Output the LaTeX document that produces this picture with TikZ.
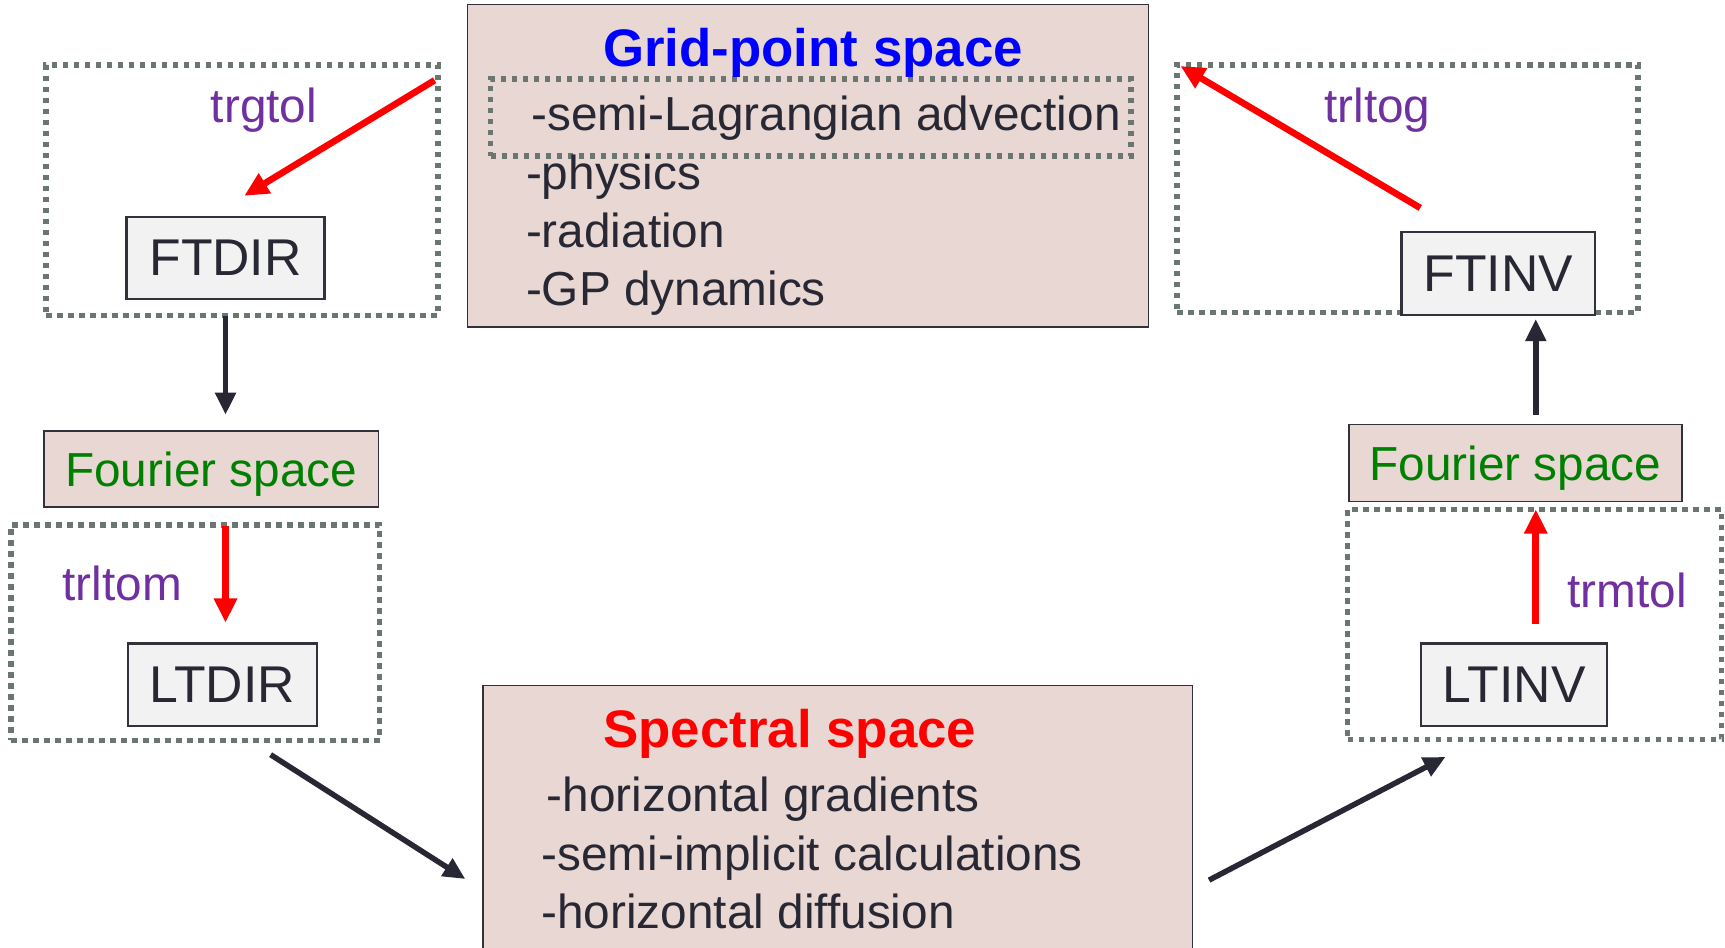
\documentclass[tikz,border=0pt]{standalone}
\usepackage{fontspec}
\setmainfont{Liberation Sans}
\usetikzlibrary{arrows.meta}
\definecolor{boxfill}{RGB}{232,215,211}
\definecolor{edge}{RGB}{50,50,60}
\definecolor{dotgray}{RGB}{108,118,112}
\definecolor{purp}{RGB}{112,48,160}
\definecolor{grn}{RGB}{0,128,0}
\definecolor{boxgray}{RGB}{242,242,242}
\definecolor{ink}{RGB}{40,40,52}
\tikzset{
 spacebox/.style={draw=edge, line width=1.5pt, fill=boxfill, inner sep=0pt},
 routine/.style={draw=edge, line width=2pt, fill=boxgray, inner sep=0pt, text=ink, font=\fontsize{47}{56}\selectfont},
 dotbox/.style={draw=dotgray, line width=5pt, dash pattern=on 5pt off 5pt, inner sep=0pt},
 lbl/.style={text=purp, font=\fontsize{43.4}{52}\selectfont, inner sep=0pt},
 itemtext/.style={text=ink, font=\fontsize{43.4}{52}\selectfont, anchor=base west, inner sep=0pt},
 ttl/.style={font=\bfseries\fontsize{48}{56}\selectfont, inner sep=0pt},
 fourier/.style={text=grn, font=\fontsize{43.4}{52}\selectfont, text depth=0pt},
 redarrow/.style={draw=red, line width=6pt, -{Triangle[length=22pt,width=20pt]}},
 darkarrow/.style={draw=ink, line width=5pt, -{Triangle[length=20pt,width=18pt]}},
}
\begin{document}
\begin{tikzpicture}[x=1pt,y=-1pt]
\useasboundingbox (0,0) rectangle (1568,861);
\clip (0,0) rectangle (1568,861);
% dotted areas
\node[dotbox, minimum width=356pt, minimum height=228pt] (ftdirArea) at (220,173) {};
\node[dotbox, minimum width=419pt, minimum height=225pt] (ftinvArea) at (1279.5,171.5) {};
\node[dotbox, minimum width=335pt, minimum height=196pt] (ltdirArea) at (177.5,575) {};
\node[dotbox, minimum width=340pt, minimum height=209pt] (ltinvArea) at (1395,567.5) {};
% space boxes
\node[spacebox, minimum width=619pt, minimum height=293pt] (grid) at (734.5,150.5) {};
\node[dotbox, minimum width=582pt, minimum height=70pt] (slArea) at (737,107) {};
\node[spacebox, minimum width=645pt, minimum height=277pt] (spec) at (761.5,761.5) {};
\node[spacebox, fourier, minimum width=304pt, minimum height=69pt] (fourL) at (192,426.5) {Fourier space};
\node[spacebox, fourier, minimum width=303pt, minimum height=70pt] (fourR) at (1377.5,421) {Fourier space};
% routine boxes
\node[routine, minimum width=180pt, minimum height=75pt] (ftdir) at (205,234.5) {FTDIR};
\node[routine, minimum width=176pt, minimum height=75pt] (ftinv) at (1362,248.5) {FTINV};
\node[routine, minimum width=172pt, minimum height=75pt] (ltdir) at (202,622.5) {LTDIR};
\node[routine, minimum width=169pt, minimum height=75pt] (ltinv) at (1376.5,622.5) {LTINV};
% titles and items
\node[ttl, text=blue] (gridTitle) at (739,48) {Grid-point space};
\node[itemtext] (g1) at (483,119) {-semi-Lagrangian advection};
\node[itemtext] (g2) at (478,172) {-physics};
\node[itemtext] (g3) at (478,225) {-radiation};
\node[itemtext] (g4) at (478,278) {-GP dynamics};
\node[ttl, text=red] (specTitle) at (718,667) {Spectral space};
\node[itemtext] (s1) at (497,738) {-horizontal gradients};
\node[itemtext] (s2) at (492,791) {-semi-implicit calculations};
\node[itemtext] (s3) at (492,844) {-horizontal diffusion};
% labels
\node[lbl] (trgtol) at (240,100) {trgtol};
\node[lbl] (trltog) at (1252,100) {trltog};
\node[lbl] (trltom) at (111,530) {trltom};
\node[lbl] (trmtol) at (1479,537) {trmtol};
% arrow end points
\coordinate (a1s) at (395,73);
\coordinate (a1e) at (222,178);
\coordinate (a2s) at (1291,189);
\coordinate (a2e) at (1073,60);
\coordinate (a3s) at (205,287);
\coordinate (a3e) at (205,377);
\coordinate (a4s) at (205,478);
\coordinate (a4e) at (205,566);
\coordinate (a5s) at (246,686);
\coordinate (a5e) at (423,799);
\coordinate (a6s) at (1099,800);
\coordinate (a6e) at (1314,688);
\coordinate (a7s) at (1396,567);
\coordinate (a7e) at (1396,463);
\coordinate (a8s) at (1396,377);
\coordinate (a8e) at (1396,290);
\draw[redarrow] (a1s) -- (a1e);
\draw[redarrow] (a2s) -- (a2e);
\draw[darkarrow] (a3s) -- (a3e);
\draw[redarrow] (a4s) -- (a4e);
\draw[darkarrow] (a5s) -- (a5e);
\draw[darkarrow] (a6s) -- (a6e);
\draw[redarrow] (a7s) -- (a7e);
\draw[darkarrow] (a8s) -- (a8e);
\end{tikzpicture}
\end{document}
